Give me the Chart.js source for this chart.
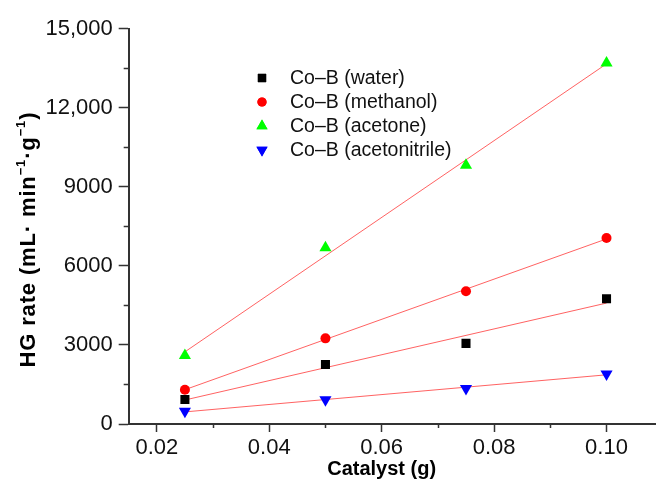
<!DOCTYPE html>
<html>
<head>
<meta charset="utf-8">
<script src="https://cdn.jsdelivr.net/npm/chart.js@4.4.1/dist/chart.umd.min.js"></script>
<style>
  html, body { margin: 0; padding: 0; background: #ffffff; overflow: hidden; }
  #wrap { width: 656px; height: 485px; overflow: hidden; }
  canvas { display: block; }
</style>
</head>
<body>
<div id="wrap"><canvas id="c" width="656" height="485"></canvas></div>
<script>
// ---- data ----
const catalyst = [0.025, 0.05, 0.075, 0.1];
const water = [930, 2260, 3060, 4750];
const methanol = [1300, 3250, 5040, 7060];
const acetone = [2600, 6690, 9820, 13700];
const acetonitrile = [480, 920, 1350, 1900];
const seriesLabels = ['Co\u2013B (water)', 'Co\u2013B (methanol)', 'Co\u2013B (acetone)', 'Co\u2013B (acetonitrile)'];
const xTickValues = [0.02, 0.04, 0.06, 0.08, 0.10];
const xTickLabels = ['0.02', '0.04', '0.06', '0.08', '0.10'];
const xMinorValues = [0.03, 0.05, 0.07, 0.09];
const yTickValues = [0, 3000, 6000, 9000, 12000, 15000];
const yTickLabels = ['0', '3000', '6000', '9000', '12,000', '15,000'];
const yMinorValues = [1500, 4500, 7500, 10500, 13500];
const xTitle = 'Catalyst (g)';

// ---- styles ----
const FONT = "'Liberation Sans', Arial, sans-serif";
const AXIS = '#333333';
const TEXT = '#111111';
const styles = [
  { color: '#000000', pointStyle: 'rect', radius: 6.4, rotation: 0 },
  { color: '#ff0000', pointStyle: 'circle', radius: 5, rotation: 0 },
  { color: '#00ff00', pointStyle: 'triangle', radius: 7, rotation: 0 },
  { color: '#0000ff', pointStyle: 'triangle', radius: 7, rotation: 180 }
];
const seriesValues = [water, methanol, acetone, acetonitrile];

function linFit(xs, ys) {
  const n = xs.length;
  const mx = xs.reduce((a, b) => a + b, 0) / n;
  const my = ys.reduce((a, b) => a + b, 0) / n;
  let sxy = 0, sxx = 0;
  for (let i = 0; i < n; i++) { sxy += (xs[i] - mx) * (ys[i] - my); sxx += (xs[i] - mx) ** 2; }
  const b = sxy / sxx;
  return x => my + b * (x - mx);
}

const datasets = [];
seriesValues.forEach((vals, i) => {
  datasets.push({
    label: seriesLabels[i],
    data: catalyst.map((x, j) => ({ x: x, y: vals[j] })),
    backgroundColor: styles[i].color,
    borderColor: styles[i].color,
    borderWidth: 0,
    pointStyle: styles[i].pointStyle,
    pointRadius: styles[i].radius,
    pointHoverRadius: styles[i].radius,
    pointRotation: styles[i].rotation,
    showLine: false,
    order: 0
  });
});
seriesValues.forEach((vals, i) => {
  const f = linFit(catalyst, vals);
  const x0 = catalyst[0], x1 = catalyst[catalyst.length - 1];
  datasets.push({
    label: 'fit' + i,
    data: [{ x: x0, y: f(x0) }, { x: x1, y: f(x1) }],
    borderColor: 'rgba(255,70,70,0.85)',
    borderWidth: 1,
    pointRadius: 0,
    pointHoverRadius: 0,
    showLine: true,
    fill: false,
    order: 1
  });
});

const decor = {
  id: 'decor',
  afterDraw(chart) {
    const ctx = chart.ctx;
    const xs = chart.scales.x, ys = chart.scales.y;
    const area = chart.chartArea;
    ctx.save();
    // minor ticks
    ctx.strokeStyle = AXIS;
    ctx.lineWidth = 1.5;
    xMinorValues.forEach(v => {
      const px = Math.round(xs.getPixelForValue(v)) + 0.5;
      ctx.beginPath(); ctx.moveTo(px, area.bottom); ctx.lineTo(px, area.bottom + 4); ctx.stroke();
    });
    yMinorValues.forEach(v => {
      const py = Math.round(ys.getPixelForValue(v)) + 0.5;
      ctx.beginPath(); ctx.moveTo(area.left, py); ctx.lineTo(area.left - 5, py); ctx.stroke();
    });
    // x title
    ctx.fillStyle = '#000';
    ctx.font = 'bold 20px ' + FONT;
    ctx.textAlign = 'center';
    ctx.textBaseline = 'alphabetic';
    ctx.fillText(xTitle, xs.getPixelForValue(0.06), 475);
    // y title with superscripts
    const parts = [
      { t: 'HG rate (mL\u00b7 min', sup: false },
      { t: '\u22121', sup: true },
      { t: '\u00b7g', sup: false },
      { t: '\u22121', sup: true },
      { t: ')', sup: false }
    ];
    const mainFont = 'bold 22px ' + FONT, supFont = 'bold 13px ' + FONT;
    let total = 0;
    parts.forEach(p => { ctx.font = p.sup ? supFont : mainFont; p.w = ctx.measureText(p.t).width; total += p.w; });
    const targetLen = 255;
    const extra = Math.max(0, (targetLen - total) / 22);
    ctx.translate(35, 240);
    ctx.rotate(-Math.PI / 2);
    ctx.textAlign = 'left';
    let cx = -targetLen / 2;
    parts.forEach(p => {
      ctx.font = p.sup ? supFont : mainFont;
      Array.from(p.t).forEach(ch => {
        ctx.fillText(ch, cx, p.sup ? -10 : 0);
        cx += ctx.measureText(ch).width + extra;
      });
    });
    ctx.restore();

    // legend
    ctx.save();
    ctx.font = '19.5px ' + FONT;
    ctx.textAlign = 'left';
    ctx.textBaseline = 'middle';
    const lx = 262, tx = 290, ly0 = 78, dy = 24;
    seriesLabels.forEach((lab, i) => {
      const y = ly0 + i * dy;
      const s = styles[i];
      ctx.fillStyle = s.color;
      ctx.strokeStyle = s.color;
      Chart.helpers.drawPoint(ctx, { pointStyle: s.pointStyle, radius: s.radius * 0.92, rotation: s.rotation, borderWidth: 0 }, lx, y);
      ctx.fill();
      ctx.fillStyle = TEXT;
      ctx.fillText(lab, tx, y + 1);
    });
    ctx.restore();
  }
};

new Chart(document.getElementById('c'), {
  type: 'scatter',
  data: { datasets: datasets },
  options: {
    responsive: false,
    animation: false,
    devicePixelRatio: 1,
    layout: { autoPadding: false, padding: { top: 28.7, right: 0, left: 0, bottom: 0 } },
    plugins: {
      legend: { display: false },
      tooltip: { enabled: false },
      title: { display: false }
    },
    elements: { point: { borderWidth: 0 } },
    scales: {
      x: {
        type: 'linear',
        min: 0.015,
        max: 0.1088,
        afterFit(scale) { scale.height = 61; scale.paddingLeft = 0; scale.paddingRight = 0; },
        afterBuildTicks(scale) { scale.ticks = xTickValues.map(v => ({ value: v })); },
        border: { display: true, color: AXIS, width: 2 },
        grid: { display: true, drawOnChartArea: false, drawTicks: true, tickLength: 8, tickColor: AXIS, tickWidth: 1.5 },
        ticks: {
          color: TEXT,
          font: { family: FONT, size: 22 },
          padding: 3,
          maxRotation: 0,
          autoSkip: false,
          callback: (v, i) => xTickLabels[i]
        }
      },
      y: {
        type: 'linear',
        min: 0,
        max: 15000,
        afterFit(scale) { scale.width = 128.7; scale.paddingTop = 0; scale.paddingBottom = 0; },
        afterBuildTicks(scale) { scale.ticks = yTickValues.map(v => ({ value: v })); },
        border: { display: true, color: AXIS, width: 2 },
        grid: { display: true, drawOnChartArea: false, drawTicks: true, tickLength: 10, tickColor: AXIS, tickWidth: 1.5 },
        ticks: {
          color: TEXT,
          font: { family: FONT, size: 22 },
          padding: 6,
          autoSkip: false,
          callback: (v, i) => yTickLabels[i]
        }
      }
    }
  },
  plugins: [decor]
});
</script>
</body>
</html>
